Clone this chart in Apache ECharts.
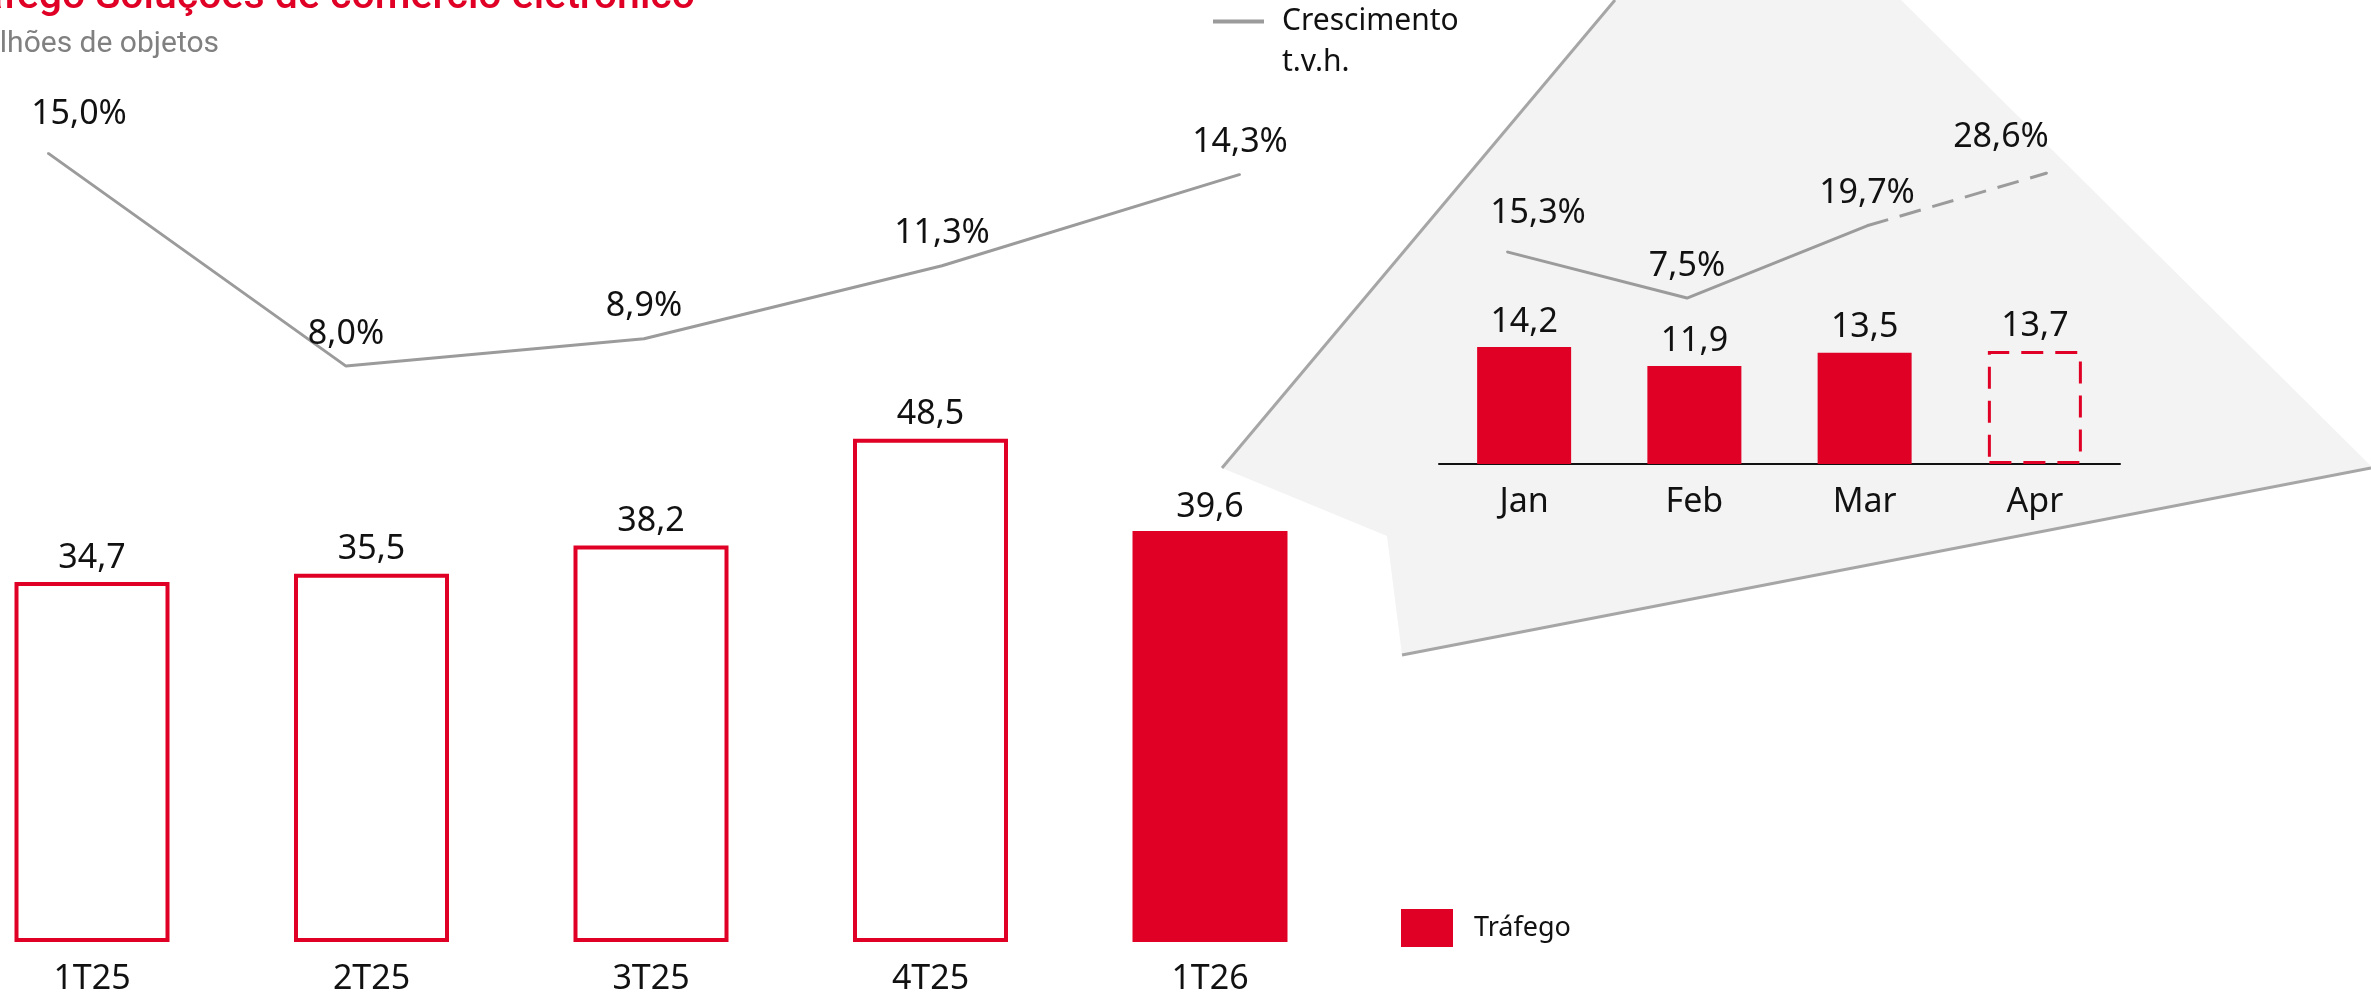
<!DOCTYPE html>
<html>
<head>
<meta charset="utf-8">
<title>Tráfego Soluções de comércio eletrônico</title>
<script src="https://cdn.jsdelivr.net/npm/echarts@6/dist/echarts.min.js"></script>
<style>
  html, body { margin: 0; padding: 0; background: #fff; }
  #chart { width: 2371px; height: 996px; }
</style>
</head>
<body>
<div id="chart"></div>
<script>
// trimestres
const quarters = ['1T25', '2T25', '3T25', '4T25', '1T26'];
const quarterTraffic = [34.7, 35.5, 38.2, 48.5, 39.6];
const quarterGrowth = [15.0, 8.0, 8.9, 11.3, 14.3];

// meses (detalhe)
const months = ['Jan', 'Feb', 'Mar', 'Apr'];
const monthTraffic = [14.2, 11.9, 13.5, 13.7];
const monthGrowth = [15.3, 7.5, 19.7, 28.6];

const RED = '#e00025';
const GREY = '#9b9b9b';
const FONT = 'Noto Sans';

const chart = echarts.init(document.getElementById('chart'));

const labelBase = { show: true, color: '#111', fontFamily: FONT, fontSize: 34 };
const pct = v => v.toFixed(1).replace('.', ',') + '%';
const num = v => v.toFixed(1).replace('.', ',');

// barras trimestrais: so a ultima e preenchida
const quarterBars = quarterTraffic.map((v, i) => i < quarterTraffic.length - 1
  ? { value: v, itemStyle: { color: '#fff', borderColor: RED, borderWidth: 4 } }
  : { value: v });

const quarterLine = quarterGrowth.map((v, i) => i === 0
  ? { value: v, label: { offset: [31, -7] } }
  : v);

const monthBars = monthTraffic.map((v, i) => i === monthTraffic.length - 1
  ? { value: v, itemStyle: { color: 'transparent', borderColor: RED, borderWidth: 3, borderType: [22, 12] } }
  : v);

const monthLineSolid = monthGrowth.map((v, i) => {
  if (i === monthGrowth.length - 1) return '-';
  if (i === 0) return { value: v, label: { offset: [31, -7] } };
  return v;
});
const monthLineDashed = monthGrowth.map((v, i) => {
  if (i < monthGrowth.length - 2) return '-';
  if (i === monthGrowth.length - 1) return { value: v, label: { show: true, offset: [-46, -4] } };
  return { value: v, label: { show: false } };
});

const hiddenY = { type: 'value', show: false, min: 0 };
const lineCommon = {
  type: 'line', symbol: 'circle', symbolSize: 2, showSymbol: true,
  lineStyle: { color: GREY, width: 3 }, itemStyle: { color: GREY },
  label: Object.assign({ position: 'top', distance: 14, formatter: p => pct(p.value) }, labelBase)
};

chart.setOption({
  animation: false,
  textStyle: { fontFamily: FONT },
  graphic: [
    {
      type: 'polygon', z: 0, silent: true,
      shape: { points: [[1615, 0], [1901, 0], [2371, 466], [2371, 468], [1402, 655], [1387, 536], [1222, 468]] },
      style: { fill: '#f3f3f3' }
    },
    { type: 'line', z: 1, shape: { x1: 1615, y1: 0, x2: 1222, y2: 468 }, style: { stroke: '#a6a6a6', lineWidth: 3 } },
    { type: 'line', z: 1, shape: { x1: 1402, y1: 655, x2: 2371, y2: 468 }, style: { stroke: '#a6a6a6', lineWidth: 3 } },
    {
      type: 'text', x: 695, y: -2,
      style: { text: 'Tráfego Soluções de comércio eletrônico', align: 'right', verticalAlign: 'middle',
        fill: RED, font: '500 41px Roboto' }
    },
    {
      type: 'text', x: 219, y: 44,
      style: { text: 'Milhões de objetos', align: 'right', verticalAlign: 'middle',
        fill: '#808080', font: '30px Roboto' }
    }
  ],
  legend: [
    {
      data: [{ name: 'Crescimento t.v.h.', icon: 'rect' }],
      left: 1213, top: -40, padding: 0, itemWidth: 51, itemHeight: 4,
      formatter: () => ' \nCrescimento\nt.v.h.',
      textStyle: { fontSize: 30, lineHeight: 41, color: '#111', fontFamily: FONT, padding: [0, 0, 0, 13] },
      itemStyle: { color: GREY }
    },
    {
      data: [{ name: 'Tráfego', icon: 'rect' }],
      left: 1401, top: 909, padding: 0, itemWidth: 52, itemHeight: 38,
      textStyle: { fontSize: 27, color: '#111', fontFamily: FONT, padding: [0, 0, 0, 16] },
      itemStyle: { color: RED, borderWidth: 0 }
    }
  ],
  grid: [
    { left: 92, width: 1118, top: 319.4, height: 627.6 },
    { left: 48, width: 1192, top: 1, height: 608.5 },
    { left: 1439, width: 681, top: 299.2, height: 164.8 },
    { left: 1507, width: 540, top: 105.5, height: 237 }
  ],
  xAxis: [
    {
      type: 'category', gridIndex: 0, data: quarters, boundaryGap: false,
      axisLine: { show: false }, axisTick: { show: false },
      axisLabel: { margin: 20, fontSize: 34, color: '#111', fontFamily: FONT }
    },
    { type: 'category', gridIndex: 1, data: quarters, boundaryGap: false, show: false },
    {
      type: 'category', gridIndex: 2, data: months,
      axisLine: { show: true, lineStyle: { color: '#111', width: 2 } }, axisTick: { show: false },
      axisLabel: { margin: 21, fontSize: 34, color: '#111', fontFamily: FONT }
    },
    { type: 'category', gridIndex: 3, data: months, boundaryGap: false, show: false }
  ],
  yAxis: [
    Object.assign({ gridIndex: 0, max: 60 }, hiddenY),
    Object.assign({ gridIndex: 1, max: 20 }, hiddenY),
    Object.assign({ gridIndex: 2, max: 20 }, hiddenY),
    Object.assign({ gridIndex: 3, max: 40 }, hiddenY)
  ],
  series: [
    {
      name: 'Tráfego', type: 'bar', xAxisIndex: 0, yAxisIndex: 0, barWidth: 155, clip: false,
      itemStyle: { color: RED },
      label: Object.assign({ position: 'top', distance: 7, formatter: p => num(p.value) }, labelBase),
      data: quarterBars
    },
    Object.assign({ name: 'Crescimento t.v.h.', xAxisIndex: 1, yAxisIndex: 1, data: quarterLine }, lineCommon),
    {
      name: 'Tráfego mensal', type: 'bar', xAxisIndex: 2, yAxisIndex: 2, barWidth: 94,
      itemStyle: { color: RED },
      label: Object.assign({ position: 'top', distance: 8, formatter: p => num(p.value) }, labelBase),
      data: monthBars
    },
    Object.assign({ name: 'Crescimento mensal', xAxisIndex: 3, yAxisIndex: 3, data: monthLineSolid }, lineCommon),
    Object.assign({}, lineCommon, {
      name: 'Crescimento mensal (estimado)', xAxisIndex: 3, yAxisIndex: 3, data: monthLineDashed,
      lineStyle: { color: GREY, width: 3, type: [22, 12] }
    })
  ]
});
</script>
</body>
</html>
